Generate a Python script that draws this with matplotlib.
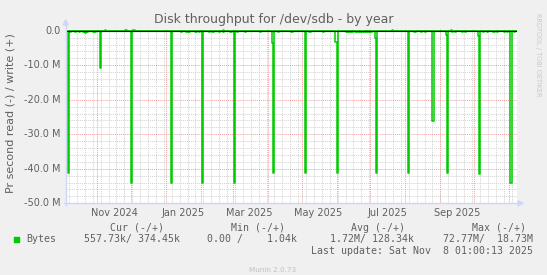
import numpy as np
import pandas as pd
import matplotlib
matplotlib.use("Agg")
import matplotlib.pyplot as plt
import matplotlib.patches as patches
import matplotlib.lines as mlines

# --- data (MB/s, daily averages) ---
spike_dates = ['2024-10-06', '2024-11-03', '2024-12-01', '2025-01-05', '2025-02-02',
               '2025-03-02', '2025-04-06', '2025-05-04', '2025-06-01', '2025-07-06',
               '2025-08-03', '2025-08-25', '2025-09-07', '2025-10-05', '2025-11-02']
spike_read = [41.1, 10.9, 44.0, 44.0, 44.0, 44.0, 41.1, 41.1, 41.1, 41.1,
              41.1, 26.1, 41.1, 41.5, 44.0]

shoulder_dates = ['2025-04-05', '2025-05-31', '2025-07-05', '2025-09-06', '2025-10-04']
shoulder_read = [3.6, 3.2, 2.0, 1.3, 1.5]

small_dates = ['2024-10-08', '2024-10-10', '2024-10-12', '2024-10-14', '2024-10-16',
               '2024-10-19', '2024-10-21', '2024-10-23', '2024-10-25', '2024-10-28',
               '2024-10-30', '2025-01-14', '2025-01-16', '2025-01-19', '2025-01-21',
               '2025-01-24', '2025-01-27', '2025-01-30', '2025-02-05', '2025-02-08',
               '2025-02-11', '2025-02-14', '2025-02-17', '2025-02-20', '2025-02-24',
               '2025-02-27', '2025-03-05', '2025-03-12', '2025-03-18', '2025-03-25',
               '2025-04-10', '2025-04-15', '2025-04-22', '2025-05-08', '2025-05-14',
               '2025-05-20', '2025-06-09', '2025-06-11', '2025-06-13', '2025-06-15',
               '2025-06-17', '2025-06-19', '2025-06-21', '2025-06-23', '2025-06-25',
               '2025-06-27', '2025-06-29', '2025-07-01', '2025-08-09', '2025-08-12',
               '2025-08-15', '2025-08-18', '2025-08-29', '2025-09-11', '2025-09-14',
               '2025-09-17', '2025-09-20', '2025-09-23', '2025-09-26', '2025-10-09',
               '2025-10-12', '2025-10-15', '2025-10-18', '2025-10-21', '2025-10-24',
               '2025-10-27', '2025-10-30', '2025-11-05']
small_read = [0.3, 0.2, 0.3, 0.2, 0.3, 0.4, 0.6, 0.3, 0.2, 0.3,
              0.3, 0.3, 0.2, 0.3, 0.3, 0.2, 0.3, 0.3, 0.2, 0.3,
              0.3, 0.2, 0.3, 0.3, 0.2, 0.3, 0.3, 0.3, 0.2, 0.3,
              0.3, 0.2, 0.3, 0.3, 0.2, 0.3, 0.4, 0.3, 0.4, 0.3,
              0.4, 0.3, 0.4, 0.3, 0.4, 0.3, 0.4, 0.3, 0.3, 0.2,
              0.3, 0.3, 0.2, 0.3, 0.3, 0.2, 0.3, 0.3, 0.2, 0.3,
              0.3, 0.2, 0.3, 0.3, 0.2, 0.3, 0.3, 0.3]

write_dates = ['2024-11-08', '2024-11-26', '2024-12-03', '2025-02-20', '2025-07-20', '2025-09-10']
write_vals = [0.3, 0.3, 0.3, 0.2, 0.2, 0.2]

x_labels = ['Nov 2024', 'Jan 2025', 'Mar 2025', 'May 2025', 'Jul 2025', 'Sep 2025']
y_ticks = [0, -10, -20, -30, -40, -50]
y_labels = ['0.0', '-10.0 M', '-20.0 M', '-30.0 M', '-40.0 M', '-50.0 M']

legend_cols = ['Cur (-/+)', 'Min (-/+)', 'Avg (-/+)', 'Max (-/+)']
legend_vals = ['557.73k/ 374.45k', '0.00 /    1.04k', '1.72M/ 128.34k', '72.77M/  18.73M']
last_update = 'Last update: Sat Nov  8 01:00:13 2025'

# --- build daily series ---
start = pd.Timestamp('2024-10-04 01:00')
end = pd.Timestamp('2025-11-08 01:00')
days = pd.date_range('2024-10-03', '2025-11-09', freq='D')
read = pd.Series(0.0, index=days)
write = pd.Series(0.0, index=days)
for d, v in zip(small_dates, small_read):
    read[pd.Timestamp(d)] = v
for d, v in zip(shoulder_dates, shoulder_read):
    read[pd.Timestamp(d)] = v
for d, v in zip(spike_dates, spike_read):
    read[pd.Timestamp(d)] = v
for d, v in zip(write_dates, write_vals):
    write[pd.Timestamp(d)] = v

W, H = 547, 275
BG = '#f0f0f0'
FONT = '#606060'
GREEN = '#00cc00'
AXIS = '#cfd6f8'

plt.rcParams['font.family'] = 'DejaVu Sans'
fig = plt.figure(figsize=(W / 100, H / 100), dpi=100, facecolor=BG)

px_l, px_r, px_t, px_b = 65.7, 517.2, 28.5, 203.3
ax = fig.add_axes([px_l / W, 1 - px_b / H, (px_r - px_l) / W, (px_b - px_t) / H])
ax.set_facecolor('white')
ax.set_xlim(start, end)
ax.set_ylim(-50, 0.64)
for s in ax.spines.values():
    s.set_visible(False)
ax.set_xticks([])
ax.set_yticks([])

# grid
for yv in np.arange(-48, 0, 2):
    if yv % 10 != 0:
        ax.axhline(yv, color='#d2d2d2', lw=0.7, dashes=(1, 1), zorder=1)
mondays = pd.date_range('2024-10-07', '2025-11-08', freq='7D')
for d in mondays:
    ax.axvline(d, color='#d2d2d2', lw=0.7, dashes=(1, 1), zorder=1)
for yv in y_ticks[1:]:
    ax.axhline(yv, color='#f4a0a0', lw=0.7, dashes=(1, 1), zorder=2)
months = pd.date_range('2024-11-01', '2025-11-01', freq='MS')
for d in months:
    ax.axvline(d, color='#f4a0a0', lw=0.7, dashes=(1, 1), zorder=2)

# data
ax.step(read.index, -read.values, where='post', color=GREEN, lw=1.1, zorder=3)
ax.step(write.index, write.values, where='post', color=GREEN, lw=1.1, zorder=3)
ax.axhline(0, color='black', lw=0.8, zorder=4)

# axis tick labels
for yv, lab in zip(y_ticks, y_labels):
    ax.text(-0.012, (yv + 50) / 50.64, lab, transform=ax.transAxes, ha='right',
            va='center', fontsize=7, color=FONT)
label_mid = [pd.Timestamp(f'{l[-4:]}-{pd.Timestamp(l).month:02d}-16') for l in x_labels]
for d, lab in zip(label_mid, x_labels):
    ax.text(d, -52.7, lab, ha='center', va='center', fontsize=7, color=FONT, clip_on=False)

# axes lines with arrows
def fx(x): return x / W
def fy(y): return 1 - y / H
fig.add_artist(mlines.Line2D([fx(px_l), fx(px_l)], [fy(px_b + 2), fy(24)], color=AXIS, lw=1))
fig.add_artist(mlines.Line2D([fx(px_l - 2), fx(521)], [fy(px_b), fy(px_b)], color=AXIS, lw=1))
fig.add_artist(patches.Polygon([(fx(px_l - 2.5), fy(25)), (fx(px_l + 2.5), fy(25)), (fx(px_l), fy(20))],
                               closed=True, color=AXIS, transform=fig.transFigure))
fig.add_artist(patches.Polygon([(fx(518), fy(px_b - 2.5)), (fx(518), fy(px_b + 2.5)), (fx(523), fy(px_b))],
                               closed=True, color=AXIS, transform=fig.transFigure))

# title and side texts
fig.text(fx(273.9), fy(20), 'Disk throughput for /dev/sdb - by year', ha='center', va='center',
         fontsize=9, color=FONT)
fig.text(fx(11), fy(113.3), 'Pr second read (-) / write (+)', rotation=90, ha='center', va='center',
         fontsize=8, color=FONT)
fig.text(fx(538), fy(55), 'RRDTOOL / TOBI OETIKER', rotation=270, ha='center', va='center',
         fontsize=4.7, color='#c8c8c8')
fig.text(fx(273), fy(269.5), 'Munin 2.0.73', ha='center', va='center', fontsize=5.2, color='#c0c0c0')

# legend
mono = 'DejaVu Sans Mono'
head_right = [164, 285, 404.7, 525.8]
val_right = [179.7, 297.3, 414.5, 532.8]
for lab, xr in zip(legend_cols, head_right):
    fig.text(fx(xr), fy(228), lab, ha='right', va='center', family=mono, fontsize=7.1, color=FONT)
for lab, xr in zip(legend_vals, val_right):
    fig.text(fx(xr), fy(239.3), lab, ha='right', va='center', family=mono, fontsize=7.1, color=FONT)
fig.text(fx(26.2), fy(239.3), 'Bytes', ha='left', va='center', family=mono, fontsize=7.1, color=FONT)
fig.text(fx(532.8), fy(251), last_update, ha='right', va='center', family=mono, fontsize=7.1, color=FONT)
fig.add_artist(patches.Rectangle((fx(14), fy(242)), 5.2 / W, 5 / H, color=GREEN,
                                 transform=fig.transFigure))

fig.savefig('out.png', dpi=100, facecolor=BG)
